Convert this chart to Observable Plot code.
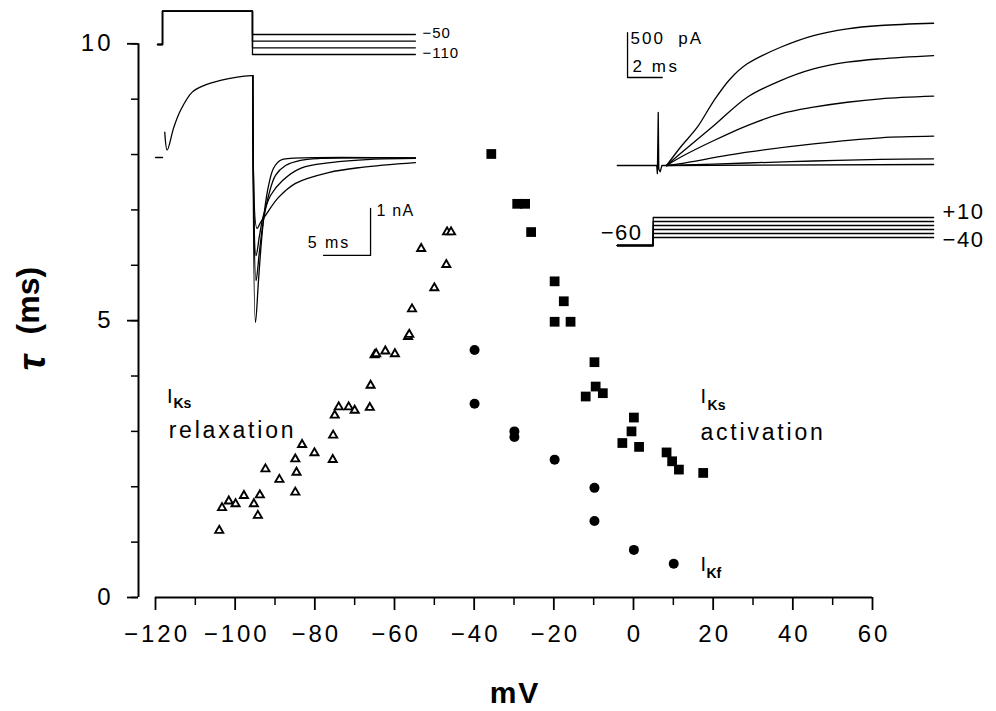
<!DOCTYPE html>
<html><head><meta charset="utf-8">
<script src="https://cdn.jsdelivr.net/npm/d3@7"></script>
<script src="https://cdn.jsdelivr.net/npm/@observablehq/plot@0.6"></script>
<style>body{margin:0;background:#fff}svg{display:block}</style>
</head><body><div id="chart"></div><script>
// ---- main data (membrane potential mV, time constant ms) ----
const relaxMV  = [-104,-103.3,-101.6,-99.9,-97.8,-95.3,-94.3,-93.8,-92.4,-88.9,-84.9,-84.6,-84.9,-83.2,-80.1,-75.5,-75.4,-75.0,-74.0,-71.5,-70.0,-66.0,-66.2,-65.0,-64.6,-62.3,-59.9,-56.6,-56.3,-55.6,-53.3,-50.0,-47.0,-46.8,-45.8];
const relaxTau = [1.21,1.62,1.74,1.69,1.84,1.69,1.48,1.85,2.32,2.13,1.90,2.26,2.50,2.76,2.61,2.49,2.93,3.29,3.44,3.44,3.38,3.83,3.43,4.38,4.40,4.45,4.40,4.71,4.75,5.21,6.30,5.59,6.01,6.60,6.60];
const actMV  = [-35.7,-29.2,-27.2,-25.7,-19.8,-17.5,-19.8,-15.8,-9.8,-9.5,-12.0,-7.7,0.1,-0.5,-2.8,1.4,8.3,9.7,11.4,17.5];
const actTau = [8.01,7.11,7.11,6.60,5.71,5.35,4.98,4.98,4.25,3.81,3.63,3.69,3.25,3.00,2.79,2.72,2.62,2.46,2.31,2.25];
const fastMV  = [-39.9,-39.9,-29.9,-29.9,-19.8,-9.8,-9.8,0.1,10.1];
const fastTau = [4.47,3.50,3.00,2.90,2.49,1.98,1.38,0.86,0.61];

const majorX = [-120,-100,-80,-60,-40,-20,0,20,40,60];
const minorX = [-110,-90,-70,-50,-30,-10,10,30,50];
const majorY = [0,5,10];
const minorY = [0,1,2,3,4,5,6,7,8,9,10];

// ---- left inset: time (ms) vs current (nA); protocol in mV ----
const leftHoldDash   = [[-0.74,0],[0,0]];
const leftActivation = [[0.24,0.54],[0.5,0.16],[1.2,0.64],[1.91,1.0],[3.16,1.39],[4.39,1.53],[6.17,1.64],[7.95,1.71],[9.47,1.74],[9.6,1.74]];
const tailM110 = [[9.6,1.74],[9.89,-3.51],[10.21,-2.62],[10.53,-1.77],[10.85,-1.13],[11.28,-0.6],[11.81,-0.23],[12.55,-0.06],[13.62,-0.02],[26.9,-0.01]];
const tailM90  = [[9.6,1.74],[9.95,-2.62],[10.32,-1.98],[10.74,-1.34],[11.28,-0.81],[12.02,-0.38],[13.09,-0.17],[14.68,-0.06],[16.81,-0.02],[26.9,-0.01]];
const tailM70  = [[9.6,1.74],[9.95,-2.09],[10.32,-1.66],[10.74,-1.23],[11.49,-0.81],[12.77,-0.49],[14.68,-0.23],[17.87,-0.11],[22.13,-0.04],[26.9,-0.02]];
const tailM50  = [[9.6,1.74],[10.05,-1.51],[10.43,-1.38],[10.96,-1.23],[12.34,-0.85],[14.15,-0.55],[17.66,-0.32],[21.17,-0.21],[26.9,-0.11]];
const leftTimes   = [-0.53, 0, 9.57, 26.9];
const leftHoldMV  = -80;
const leftStepMV  = 20;
const leftTailMV  = [-50,-70,-90,-110];
const leftBarMs = 5, leftBarNA = 1;

// ---- right inset: time (ms) vs current (pA); protocol in mV ----
const rightArtifact = [[-2.07,0],[0.2,0],[0.24,-90],[0.29,590],[0.32,-40],[0.4,-70],[0.5,0],[0.77,0]];
const actP10 = [[0.77,0],[1.57,203],[2.54,426],[3.5,722],[4.46,967],[5.42,1130],[7.34,1314],[9.24,1444],[11.18,1519],[13.1,1556],[16.16,1581]];
const actP0  = [[0.77,0],[1.57,133],[3.5,444],[5.42,759],[7.34,944],[9.24,1074],[11.18,1148],[13.1,1186],[16.16,1222]];
const actM10 = [[0.77,0],[1.57,92],[3.5,278],[5.42,444],[7.34,574],[9.24,648],[11.18,703],[13.1,741],[16.16,770]];
const actM20 = [[0.77,0],[1.57,22],[5.42,148],[9.24,241],[13.1,308],[16.16,326]];
const actM30 = [[0.77,0],[5.42,28],[9.24,50],[13.1,67],[16.16,74]];
const actM40 = [[0.77,0],[16.16,11]];
const rightTimes  = [-2.07, 0, 16.16];
const rightHoldMV = -60;
const rightStepMV = [10,0,-10,-20,-30,-40];
const rightBarMs = 2, rightBarPA = 500;

// ---- inset placement inside the main axes (layout) ----
const L = {x0:-118.24, xPerMs:2.360, iY0:7.947, yPerNA:0.8488, vY0:10.469, yPerMV:0.00602, barT:22.13, barI:-2.085};
const R = {x0:4.95, xPerMs:4.356, iY0:7.802, yPerPA:0.001625, vY0:6.791, yPerMV:0.007224, barT:-1.48, barI:977.8};

const lI = ([t,i]) => ({x: L.x0 + t*L.xPerMs, y: L.iY0 + i*L.yPerNA});
const lV = ([t,v]) => ({x: L.x0 + t*L.xPerMs, y: L.vY0 + v*L.yPerMV});
const rI = ([t,i]) => ({x: R.x0 + t*R.xPerMs, y: R.iY0 + i*R.yPerPA});
const rV = ([t,v]) => ({x: R.x0 + t*R.xPerMs, y: R.vY0 + v*R.yPerMV});

const smooth = [], straight = [];
const add = (arr, id, pts, f) => pts.forEach(p => arr.push({id, ...f(p)}));
add(smooth, "lact", leftActivation, lI);
[tailM110, tailM90, tailM70, tailM50].forEach((t,k) => add(smooth, "tail"+k, t, lI));
[actP10, actP0, actM10, actM20, actM30, actM40].forEach((t,k) => add(smooth, "ract"+k, t, rI));
add(straight, "dash", leftHoldDash, lI);
leftTailMV.forEach((v,k) => add(straight, "lv"+k, [[leftTimes[0],leftHoldMV],[leftTimes[1],leftHoldMV],[leftTimes[1],leftStepMV],[leftTimes[2],leftStepMV],[leftTimes[2],v],[leftTimes[3],v]], lV));
rightStepMV.forEach((v,k) => add(straight, "rv"+k, [[rightTimes[0],rightHoldMV],[rightTimes[1],rightHoldMV],[rightTimes[1],v],[rightTimes[2],v]], rV));
add(straight, "art", rightArtifact, rI);
add(straight, "lbar", [[L.barT-leftBarMs,L.barI],[L.barT,L.barI],[L.barT,L.barI+leftBarNA]], lI);
add(straight, "rbar", [[R.barT+rightBarMs,R.barI],[R.barT,R.barI],[R.barT,R.barI+rightBarPA]], rI);

// ---- annotation anchors (chart units) ----
const smallLabels = [
  {t:"\u221250", x:-52.97, y:10.19, s:15},
  {t:"\u2212110", x:-52.97, y:9.83, s:15},
  {t:"1 nA", x:-64.5, y:6.99, s:16},
  {t:"5 ms", x:-81.8, y:6.41, s:16},
  {t:"500  pA", x:-0.74, y:10.09, s:17},
  {t:"2 ms", x:-0.24, y:9.59, s:17}
];
const stepLabelsRight = [
  {t:"+10", x:77.6, y:6.97},
  {t:"\u221240", x:77.6, y:6.45}
];
const holdLabel = [{t:"\u221260", x:1.9, y:6.59}];
const curI   = [{t:"I",x:-117.1,y:3.63},{t:"I",x:16.8,y:3.63},{t:"I",x:16.8,y:0.60}];
const curSub = [{t:"Ks",x:-115.5,y:3.51},{t:"Ks",x:18.6,y:3.46},{t:"Kf",x:18.3,y:0.44}];
const curName= [{t:"relaxation",x:-116.7,y:3.02},{t:"activation",x:16.8,y:2.98}];

// letter spacing (px) by font size, with per-text overrides
const spacingBySize = {24: 3, 22: 1.5, 23: 2.8, 15: 1, 30: 2, 16: 1.5, 17: 2};
const spacingByText = {"5 ms": 2, "2 ms": 2.5, "1 nA": 1.2};

const fmt = d => d < 0 ? "\u2212" + Math.abs(d) : String(d);
const pts = (xs, ys) => xs.map((x,i) => ({x, y: ys[i]}));

const chart = Plot.plot({
  width: 996, height: 711,
  marginLeft: 138, marginRight: 124, marginTop: 43.3, marginBottom: 114,
  x: {domain: [-120, 60], insetLeft: 17},
  y: {domain: [0, 10]},
  style: {fontFamily: "'Liberation Sans', Arial, sans-serif", color: "black", background: "white"},
  marks: [
    Plot.ruleY([0], {x1: -120, x2: 60, strokeWidth: 2}),
    Plot.ruleX([-120], {y1: 0, y2: 10, dx: -17, strokeWidth: 2}),
    Plot.axisX({ticks: majorX, tickSize: 13, tickPadding: 14, fontSize: 24, tickFormat: fmt, strokeWidth: 1.8, label: null}),
    Plot.axisX({ticks: minorX, tickSize: 8, tickFormat: () => "", strokeWidth: 1.5, label: null}),
    Plot.axisY({ticks: majorY, tickSize: 11, tickPadding: 17, fontSize: 24, tickFormat: fmt, strokeWidth: 1.8, label: null}),
    Plot.axisY({ticks: minorY, tickSize: 7, tickFormat: () => "", strokeWidth: 1.5, label: null}),
    Plot.text(["mV"], {frameAnchor: "bottom", textAnchor: "middle", lineAnchor: "middle", dx: 8.5, dy: 96, fontSize: 30, fontWeight: "bold"}),
    Plot.text(["(ms)"], {frameAnchor: "left", textAnchor: "middle", lineAnchor: "middle", dx: -110, dy: -20, rotate: -90, fontSize: 32, fontWeight: "bold"}),
    Plot.text(["\u03c4"], {frameAnchor: "left", textAnchor: "middle", lineAnchor: "middle", dx: -106, dy: 42, rotate: -90, fontSize: 38, fontWeight: "bold", fontStyle: "italic"}),
    Plot.line(smooth, {x: "x", y: "y", z: "id", curve: "catmull-rom", stroke: "black", strokeWidth: 1.3}),
    Plot.line(straight, {x: "x", y: "y", z: "id", stroke: "black", strokeWidth: 1.3}),
    ...smallLabels.map(d => Plot.text([d], {x: "x", y: "y", text: "t", textAnchor: "start", fontSize: d.s})),
    Plot.text(stepLabelsRight, {x: "x", y: "y", text: "t", textAnchor: "start", fontSize: 22}),
    Plot.text(holdLabel, {x: "x", y: "y", text: "t", textAnchor: "end", fontSize: 22}),
    Plot.dot(pts(relaxMV, relaxTau), {x: "x", y: "y", symbol: "triangle", r: 3, fill: "white", stroke: "black", strokeWidth: 1.9}),
    Plot.dot(pts(actMV, actTau), {x: "x", y: "y", symbol: "square", r: 5.5, fill: "black"}),
    Plot.dot(pts(fastMV, fastTau), {x: "x", y: "y", symbol: "circle", r: 5, fill: "black"}),
    Plot.text(curI, {x: "x", y: "y", text: "t", textAnchor: "start", fontSize: 20}),
    Plot.text(curSub, {x: "x", y: "y", text: "t", textAnchor: "start", fontSize: 14, fontWeight: "bold"}),
    Plot.text(curName, {x: "x", y: "y", text: "t", textAnchor: "start", fontSize: 23})
  ]
});
document.getElementById("chart").appendChild(chart);

// apply letter spacing (Plot has no letterSpacing option), compensating trailing space for anchors
d3.select(chart).selectAll("text").each(function() {
  const cs = getComputedStyle(this);
  const size = Math.round(parseFloat(cs.fontSize));
  const txt = this.textContent;
  if (!txt) return;
  let ls = spacingByText[txt] ?? spacingBySize[size];
  if (!ls) return;
  this.setAttribute("letter-spacing", ls);
  const anchor = cs.textAnchor;
  if (anchor === "middle") this.setAttribute("dx", ls / 2);
  else if (anchor === "end") this.setAttribute("dx", ls);
});
</script></body></html>
